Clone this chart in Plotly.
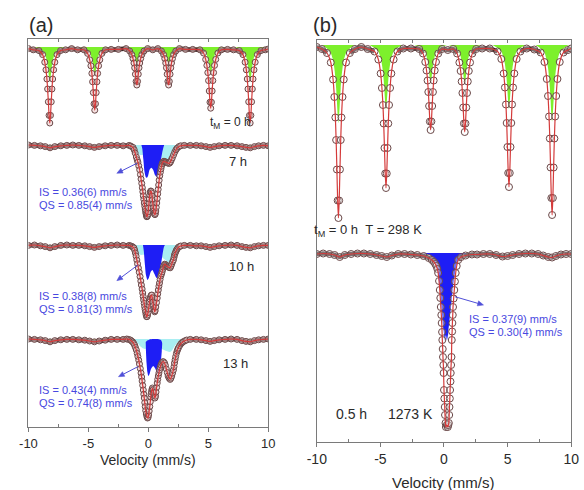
import math
import plotly.graph_objects as go

W, H = 584, 490
FONT = "Liberation Sans, Arial, sans-serif"

# ======================= DATA (relative transmission, %) =======================
tick_vals = [-10, -5, 0, 5, 10]
tick_labels = ["-10", "-5", "0", "5", "10"]
minor_ticks = [-7.5, -2.5, 2.5, 7.5]
top_ticks = [-7.5, -5, -2.5, 0, 2.5, 5, 7.5]

# ---- (a) t_M = 0 h ----
a0_v = [-10.0, -9.6,
        -9.12, -8.82, -8.64, -8.54, -8.46, -8.40, -8.34, -8.28, -8.22, -8.16, -8.10, -8.04, -7.98, -7.90, -7.80, -7.62, -7.32,
        -6.9, -6.4, -5.9,
        -5.37, -5.07, -4.89, -4.79, -4.71, -4.65, -4.59, -4.53, -4.47, -4.41, -4.35, -4.29, -4.23, -4.15, -4.05, -3.87, -3.57,
        -3.1, -2.5,
        -1.86, -1.56, -1.38, -1.28, -1.20, -1.14, -1.08, -1.02, -0.96, -0.90, -0.84, -0.78, -0.72, -0.64, -0.54, -0.36, -0.06,
        0.37,
        0.79, 1.09, 1.27, 1.37, 1.45, 1.51, 1.57, 1.63, 1.69, 1.75, 1.81, 1.87, 1.93, 2.01, 2.11, 2.29, 2.59,
        3.1, 3.7,
        4.30, 4.60, 4.78, 4.88, 4.96, 5.02, 5.08, 5.14, 5.20, 5.26, 5.32, 5.38, 5.44, 5.52, 5.62, 5.80, 6.10,
        6.6, 7.1,
        7.59, 7.89, 8.07, 8.17, 8.25, 8.31, 8.37, 8.43, 8.49, 8.55, 8.61, 8.67, 8.73, 8.81, 8.91, 9.09, 9.39,
        9.75, 10.0]
a0_t = [99.6, 99.3,
        99.1, 98.1, 96.2, 94.3, 92.0, 89.5, 86.3, 82.9, 81.0, 82.9, 86.3, 89.5, 92.0, 94.3, 96.2, 98.1, 99.1,
        99.3, 99.6, 99.3,
        99.3, 98.4, 96.8, 95.3, 93.4, 91.3, 88.6, 85.8, 84.2, 85.8, 88.6, 91.3, 93.4, 95.3, 96.8, 98.4, 99.3,
        99.4, 99.4,
        99.6, 99.0, 98.1, 97.1, 96.0, 94.8, 93.2, 91.4, 90.5, 91.4, 93.2, 94.8, 96.0, 97.1, 98.1, 99.0, 99.6,
        99.3,
        99.6, 99.0, 98.1, 97.1, 96.0, 94.8, 93.2, 91.4, 90.5, 91.4, 93.2, 94.8, 96.0, 97.1, 98.1, 99.0, 99.6,
        99.4, 99.4,
        99.3, 98.5, 96.9, 95.4, 93.6, 91.6, 89.0, 86.2, 84.7, 86.2, 89.0, 91.6, 93.6, 95.4, 96.9, 98.5, 99.3,
        99.4, 99.3,
        99.1, 98.1, 96.2, 94.3, 92.0, 89.5, 86.3, 82.9, 81.0, 82.9, 86.3, 89.5, 92.0, 94.3, 96.2, 98.1, 99.1,
        99.3, 99.5]
a0_green_v = [-9.52, -9.12, -8.82, -8.64, -8.54, -8.46, -8.40, -8.34, -8.28, -8.22, -8.16, -8.10, -8.04, -7.98, -7.90, -7.80, -7.62, -7.32, -6.92, None,
              -5.77, -5.37, -5.07, -4.89, -4.79, -4.71, -4.65, -4.59, -4.53, -4.47, -4.41, -4.35, -4.29, -4.23, -4.15, -4.05, -3.87, -3.57, -3.17, None,
              -2.26, -1.86, -1.56, -1.38, -1.28, -1.20, -1.14, -1.08, -1.02, -0.96, -0.90, -0.84, -0.78, -0.72, -0.64, -0.54, -0.36, -0.06, 0.34, None,
              0.39, 0.79, 1.09, 1.27, 1.37, 1.45, 1.51, 1.57, 1.63, 1.69, 1.75, 1.81, 1.87, 1.93, 2.01, 2.11, 2.29, 2.59, 2.99, None,
              3.90, 4.30, 4.60, 4.78, 4.88, 4.96, 5.02, 5.08, 5.14, 5.20, 5.26, 5.32, 5.38, 5.44, 5.52, 5.62, 5.80, 6.10, 6.50, None,
              7.19, 7.59, 7.89, 8.07, 8.17, 8.25, 8.31, 8.37, 8.43, 8.49, 8.55, 8.61, 8.67, 8.73, 8.81, 8.91, 9.09, 9.39, 9.79]
a0_green_t = [100, 99.6, 99.1, 98.3, 97.4, 96.4, 95.3, 93.8, 92.3, 91.4, 92.3, 93.8, 95.3, 96.4, 97.4, 98.3, 99.1, 99.6, 100, None,
              100, 99.7, 99.3, 98.6, 97.9, 97.0, 96.1, 94.9, 93.6, 92.9, 93.6, 94.9, 96.1, 97.0, 97.9, 98.6, 99.3, 99.7, 100, None,
              100, 99.8, 99.6, 99.1, 98.7, 98.2, 97.6, 96.9, 96.1, 95.7, 96.1, 96.9, 97.6, 98.2, 98.7, 99.1, 99.6, 99.8, 100, None,
              100, 99.8, 99.6, 99.1, 98.7, 98.2, 97.6, 96.9, 96.1, 95.7, 96.1, 96.9, 97.6, 98.2, 98.7, 99.1, 99.6, 99.8, 100, None,
              100, 99.7, 99.3, 98.6, 97.9, 97.1, 96.2, 95.0, 93.8, 93.1, 93.8, 95.0, 96.2, 97.1, 97.9, 98.6, 99.3, 99.7, 100, None,
              100, 99.6, 99.1, 98.3, 97.4, 96.4, 95.3, 93.8, 92.3, 91.4, 92.3, 93.8, 95.3, 96.4, 97.4, 98.3, 99.1, 99.6, 100]

# remnant sextet in the milled samples (tiny green dips)
rem_v = [-8.55, -8.35, -8.2, -8.05, -7.85, None, -4.85, -4.65, -4.5, -4.35, -4.15, None,
         4.8, 5.0, 5.15, 5.3, 5.5, None, 8.15, 8.35, 8.5, 8.65, 8.85]
rem_t = [100, 99.75, 99.5, 99.75, 100, None, 100, 99.8, 99.6, 99.8, 100, None,
         100, 99.8, 99.6, 99.8, 100, None, 100, 99.75, 99.5, 99.75, 100]

# baseline channels shared by the milled spectra (outside the central doublet)
mill_left_v = [-10.0, -9.5, -9.0, -8.6, -8.2, -7.8, -7.3, -6.8, -6.3, -5.8, -5.3, -4.9, -4.5, -4.1, -3.6, -3.1, -2.6, -2.1]
mill_right_v = [3.5, 4.0, 4.4, 4.8, 5.15, 5.5, 5.9, 6.4, 6.9, 7.4, 7.8, 8.15, 8.5, 8.85, 9.2, 9.6, 10.0]

# ---- (a) 7 h ----
a7_left_t = [100.0, 99.9, 99.8, 99.6, 99.3, 99.6, 99.8, 99.9, 100.0, 99.9, 99.8, 99.6, 99.4, 99.6, 99.8, 99.9, 99.9, 99.8]
a7_mid_v = [-1.6, -1.45, -1.28, -1.18, -1.1, -1.0, -0.93, -0.87, -0.8, -0.72, -0.66, -0.61, -0.55, -0.5, -0.46,
            -0.42, -0.38, -0.34, -0.3, -0.26, -0.23, -0.2, -0.17, -0.14, -0.11, -0.08, -0.05, -0.02, 0.02, 0.05,
            0.08, 0.12, 0.16, 0.2, 0.24, 0.27, 0.31, 0.34, 0.38, 0.41, 0.45, 0.48, 0.52, 0.55, 0.59,
            0.62, 0.66, 0.7, 0.74, 0.78, 0.82, 0.86, 0.9, 0.95, 1.0, 1.05, 1.1, 1.15, 1.21, 1.27,
            1.33, 1.4, 1.47, 1.55, 1.62, 1.7, 1.78, 1.85, 1.92, 2.0, 2.1, 2.2, 2.3, 2.4, 2.55, 2.7, 3.0]
a7_mid_t = [99.9, 99.7, 99.4, 98.8, 98.0, 97.0, 96.3, 95.7, 94.8, 93.8, 92.6, 91.5, 90.4, 89.3, 88.3,
            87.3, 86.4, 85.5, 84.7, 84.0, 83.4, 82.9, 82.5, 82.1, 82.1, 82.3, 82.7, 83.3, 84.3, 85.5,
            86.5, 87.5, 88.2, 88.5, 88.4, 88.0, 87.2, 86.3, 85.2, 84.3, 83.5, 83.0, 82.7, 82.6, 82.9,
            83.5, 84.4, 85.5, 86.6, 87.8, 88.9, 90.0, 91.2, 92.3, 93.2, 94.0, 94.7, 95.3, 95.7, 95.9,
            95.9, 95.8, 95.7, 95.6, 95.5, 95.4, 95.5, 95.8, 96.3, 96.8, 97.5, 98.2, 98.8, 99.2, 99.6, 99.8, 99.9]
a7_right_t = [99.9, 99.9, 99.8, 99.6, 99.4, 99.6, 99.8, 99.9, 99.9, 99.8, 99.6, 99.4, 99.3, 99.6, 99.8, 99.9, 99.8]
a7_blue_v = [-0.58, -0.5, -0.42, -0.32, -0.22, -0.12, -0.02, 0.1, 0.25, 0.4, 0.55, 0.72, 0.85, 0.95, 1.05, 1.15, 1.25, 1.32]
a7_blue_t = [100.0, 99.0, 96.5, 93.3, 92.0, 91.8, 92.3, 93.8, 94.3, 93.8, 92.5, 92.0, 92.8, 94.5, 96.3, 98.0, 99.3, 100.0]
a7_cyan_v = [-1.5, -1.3, -1.1, -0.9, -0.7, -0.5, -0.2, 0.2, 0.6, 1.0, 1.3, 1.6, 1.8, 2.0, 2.2, 2.4, 2.6, 2.9]
a7_cyan_t = [100.0, 99.4, 98.5, 97.8, 97.5, 97.5, 97.8, 98.0, 97.8, 97.0, 96.3, 95.8, 95.8, 96.9, 98.4, 99.3, 99.7, 100.0]

# ---- (a) 10 h ----
a10_left_t = [99.9, 100.0, 99.8, 99.6, 99.3, 99.6, 99.9, 100.0, 99.9, 99.9, 99.8, 99.6, 99.4, 99.6, 99.8, 99.9, 100.0, 99.9]
a10_mid_v = [-1.6, -1.45, -1.35, -1.27, -1.2, -1.14, -1.08, -1.02, -0.96, -0.9, -0.83, -0.76, -0.69, -0.63, -0.58,
             -0.52, -0.47, -0.43, -0.39, -0.35, -0.31, -0.27, -0.23, -0.19, -0.15, -0.11, -0.07, -0.03, 0.02, 0.06,
             0.1, 0.14, 0.18, 0.23, 0.28, 0.33, 0.38, 0.42, 0.46, 0.5, 0.53, 0.57, 0.62, 0.68, 0.74,
             0.78, 0.83, 0.88, 0.93, 0.98, 1.04, 1.1, 1.15, 1.2, 1.25, 1.3, 1.36, 1.43, 1.5, 1.58,
             1.65, 1.73, 1.82, 1.88, 1.95, 2.02, 2.09, 2.14, 2.18, 2.23, 2.28, 2.34, 2.4, 2.49, 2.6, 2.7, 3.0]
a10_mid_t = [99.9, 99.75, 99.6, 99.45, 99.25, 98.7, 98.0, 97.2, 96.25, 95.3, 94.25, 93.2, 92.1, 91.0, 90.0,
             89.0, 88.0, 87.1, 86.25, 85.4, 84.6, 83.9, 83.25, 82.6, 82.1, 82.1, 82.5, 83.1, 84.0, 84.9,
             85.75, 86.5, 87.0, 87.4, 87.5, 86.8, 85.75, 84.9, 84.1, 83.6, 83.3, 83.6, 84.5, 85.6, 86.75,
             87.8, 88.75, 89.7, 90.5, 91.4, 92.25, 92.8, 93.3, 93.9, 94.5, 94.9, 95.2, 95.1, 94.9, 94.7,
             94.5, 94.4, 94.3, 94.7, 95.25, 95.8, 96.25, 96.9, 97.5, 97.9, 98.3, 98.7, 99.0, 99.4, 99.6, 99.75, 99.9]
a10_right_t = [99.9, 99.8, 99.8, 99.6, 99.4, 99.6, 99.8, 99.9, 100.0, 99.9, 99.6, 99.4, 99.3, 99.6, 99.8, 99.9, 99.9]
a10_blue_v = [-0.45, -0.38, -0.3, -0.2, -0.07, 0.05, 0.2, 0.34, 0.5, 0.65, 0.74, 0.85, 0.98, 1.1, 1.2, 1.3, 1.38]
a10_blue_t = [100.0, 98.5, 95.5, 92.5, 91.25, 91.8, 93.3, 93.75, 92.8, 91.9, 91.75, 92.5, 94.3, 96.0, 98.0, 99.5, 100.0]
a10_cyan_v = [-1.5, -1.25, -1.05, -0.85, -0.6, -0.3, 0.2, 0.7, 1.1, 1.4, 1.69, 1.9, 2.1, 2.3, 2.5, 2.8]
a10_cyan_t = [100.0, 99.4, 98.5, 97.8, 97.5, 97.6, 98.0, 97.8, 97.0, 96.3, 95.6, 96.3, 97.5, 98.7, 99.5, 100.0]

# ---- (a) 13 h ----
a13_left_t = [100.0, 99.9, 99.8, 99.6, 99.3, 99.6, 99.8, 99.9, 99.9, 99.8, 99.7, 99.5, 99.3, 99.5, 99.7, 99.9, 99.9, 99.9]
a13_mid_v = [-1.8, -1.65, -1.5, -1.4, -1.3, -1.22, -1.15, -1.08, -1.0, -0.93, -0.87, -0.8, -0.74, -0.67, -0.61,
             -0.56, -0.52, -0.47, -0.42, -0.38, -0.34, -0.3, -0.26, -0.22, -0.17, -0.12, -0.07, -0.02, 0.02, 0.07,
             0.12, 0.16, 0.2, 0.23, 0.26, 0.3, 0.34, 0.39, 0.44, 0.5, 0.55, 0.6, 0.64, 0.69, 0.74,
             0.78, 0.83, 0.88, 0.93, 0.99, 1.05, 1.12, 1.2, 1.27, 1.35, 1.42, 1.5, 1.58, 1.65, 1.73,
             1.82, 1.88, 1.95, 2.02, 2.09, 2.14, 2.18, 2.23, 2.28, 2.34, 2.4, 2.45, 2.5, 2.6, 2.7,
             2.8, 2.9, 3.05, 3.2]
a13_mid_t = [100.0, 99.9, 99.75, 99.5, 99.25, 98.9, 98.5, 97.9, 97.25, 96.4, 95.6, 94.7, 93.75, 92.6, 91.5,
             90.5, 89.5, 88.4, 87.25, 86.2, 85.25, 84.1, 83.1, 82.1, 81.25, 80.6, 80.25, 80.4, 81.0, 82.0,
             83.1, 84.3, 85.5, 86.2, 86.8, 87.4, 87.75, 87.3, 86.5, 85.7, 85.25, 85.7, 86.75, 87.9, 89.0,
             89.9, 90.75, 91.5, 92.25, 92.9, 93.5, 94.0, 94.3, 94.3, 94.0, 93.4, 92.5, 91.6, 90.75, 90.2,
             89.9, 90.2, 90.75, 91.5, 92.25, 93.1, 94.0, 94.8, 95.6, 96.4, 97.0, 97.4, 97.75, 98.3, 98.75,
             99.05, 99.3, 99.55, 99.75]
a13_right_t = [99.9, 99.9, 99.8, 99.6, 99.4, 99.6, 99.8, 99.9, 100.0, 99.9, 99.6, 99.4, 99.3, 99.6, 99.8, 99.9, 100.0]
a13_blue_v = [-0.22, -0.2, -0.15, -0.08, 0.0, 0.1, 0.22, 0.4, 0.55, 0.7, 0.82, 0.95, 1.05, 1.12, 1.15,
              1.05, 0.8, 0.4, 0.1, -0.1]
a13_blue_t = [99.25, 97.0, 94.0, 91.75, 90.75, 91.25, 92.5, 93.25, 92.75, 91.75, 91.5, 92.5, 94.5, 97.0, 99.0,
              99.75, 100.0, 100.0, 99.9, 99.6]
a13_cyan_v = [-1.4, -1.1, -0.9, -0.7, -0.5, -0.3, 0.0, 0.4, 0.8, 1.2, 1.5, 1.8, 2.0, 2.2, 2.4, 2.6, 2.9, 3.2]
a13_cyan_t = [100.0, 99.5, 99.0, 98.25, 97.75, 97.5, 97.6, 97.9, 97.75, 97.4, 97.0, 96.75, 97.25, 98.25, 99.0, 99.5, 99.9, 100.0]

# ---- (b) t_M = 0 h, T = 298 K ----
b0_v = [-10.0, -9.6,
        -9.20, -8.90, -8.72, -8.62, -8.54, -8.48, -8.42, -8.36, -8.30, -8.24, -8.18, -8.12, -8.06, -7.98, -7.88, -7.70, -7.40,
        -7.0, -6.5, -6.0,
        -5.46, -5.16, -4.98, -4.88, -4.80, -4.74, -4.68, -4.62, -4.56, -4.50, -4.44, -4.38, -4.32, -4.24, -4.14, -3.96, -3.66,
        -3.2, -2.6,
        -1.95, -1.65, -1.47, -1.37, -1.29, -1.23, -1.17, -1.11, -1.05, -0.99, -0.93, -0.87, -0.81, -0.73, -0.63, -0.45, -0.15,
        0.3,
        0.73, 1.03, 1.21, 1.31, 1.39, 1.45, 1.51, 1.57, 1.63, 1.69, 1.75, 1.81, 1.87, 1.95, 2.05, 2.23, 2.53,
        3.0, 3.6,
        4.21, 4.51, 4.69, 4.79, 4.87, 4.93, 4.99, 5.05, 5.11, 5.17, 5.23, 5.29, 5.35, 5.43, 5.53, 5.71, 6.01,
        6.5, 7.1,
        7.60, 7.90, 8.08, 8.18, 8.26, 8.32, 8.38, 8.44, 8.50, 8.56, 8.62, 8.68, 8.74, 8.82, 8.92, 9.10, 9.40,
        9.75, 10.0]
b0_t = [99.6, 99.2,
        98.4, 96.5, 93.1, 89.6, 85.5, 81.0, 75.1, 68.9, 65.4, 68.9, 75.1, 81.0, 85.5, 89.6, 93.1, 96.5, 98.4,
        99.2, 99.6, 99.2,
        98.7, 97.1, 94.3, 91.4, 88.0, 84.3, 79.4, 74.3, 71.4, 74.3, 79.4, 84.3, 88.0, 91.4, 94.3, 97.1, 98.7,
        99.3, 99.3,
        99.2, 98.3, 96.6, 94.9, 92.9, 90.6, 87.8, 84.7, 83.0, 84.7, 87.8, 90.6, 92.9, 94.9, 96.6, 98.3, 99.2,
        99.0,
        99.2, 98.3, 96.5, 94.8, 92.7, 90.4, 87.5, 84.3, 82.6, 84.3, 87.5, 90.4, 92.7, 94.8, 96.5, 98.3, 99.2,
        99.3, 99.3,
        98.7, 97.2, 94.3, 91.5, 88.1, 84.4, 79.6, 74.4, 71.6, 74.4, 79.6, 84.4, 88.1, 91.5, 94.3, 97.2, 98.7,
        99.3, 99.1,
        98.5, 96.6, 93.2, 89.8, 85.7, 81.3, 75.5, 69.4, 66.0, 69.4, 75.5, 81.3, 85.7, 89.8, 93.2, 96.6, 98.5,
        99.0, 99.3]
b0_green_v = [-9.60, -9.20, -8.90, -8.72, -8.62, -8.54, -8.48, -8.42, -8.36, -8.30, -8.24, -8.18, -8.12, -8.06, -7.98, -7.88, -7.70, -7.40, -7.00, None,
              -5.86, -5.46, -5.16, -4.98, -4.88, -4.80, -4.74, -4.68, -4.62, -4.56, -4.50, -4.44, -4.38, -4.32, -4.24, -4.14, -3.96, -3.66, -3.26, None,
              -2.35, -1.95, -1.65, -1.47, -1.37, -1.29, -1.23, -1.17, -1.11, -1.05, -0.99, -0.93, -0.87, -0.81, -0.73, -0.63, -0.45, -0.15, 0.25, None,
              0.33, 0.73, 1.03, 1.21, 1.31, 1.39, 1.45, 1.51, 1.57, 1.63, 1.69, 1.75, 1.81, 1.87, 1.95, 2.05, 2.23, 2.53, 2.93, None,
              3.81, 4.21, 4.51, 4.69, 4.79, 4.87, 4.93, 4.99, 5.05, 5.11, 5.17, 5.23, 5.29, 5.35, 5.43, 5.53, 5.71, 6.01, 6.41, None,
              7.20, 7.60, 7.90, 8.08, 8.18, 8.26, 8.32, 8.38, 8.44, 8.50, 8.56, 8.62, 8.68, 8.74, 8.82, 8.92, 9.10, 9.40, 9.80]
b0_green_t = [100, 99.3, 98.4, 96.9, 95.3, 93.5, 91.4, 88.8, 86.0, 84.4, 86.0, 88.8, 91.4, 93.5, 95.3, 96.9, 98.4, 99.3, 100, None,
              100, 99.4, 98.7, 97.4, 96.1, 94.6, 92.9, 90.7, 88.4, 87.1, 88.4, 90.7, 92.9, 94.6, 96.1, 97.4, 98.7, 99.4, 100, None,
              100, 99.7, 99.2, 98.5, 97.7, 96.8, 95.8, 94.5, 93.1, 92.3, 93.1, 94.5, 95.8, 96.8, 97.7, 98.5, 99.2, 99.7, 100, None,
              100, 99.7, 99.2, 98.4, 97.7, 96.7, 95.7, 94.4, 93.0, 92.2, 93.0, 94.4, 95.7, 96.7, 97.7, 98.4, 99.2, 99.7, 100, None,
              100, 99.4, 98.7, 97.4, 96.2, 94.6, 93.0, 90.8, 88.5, 87.2, 88.5, 90.8, 93.0, 94.6, 96.2, 97.4, 98.7, 99.4, 100, None,
              100, 99.3, 98.5, 96.9, 95.4, 93.6, 91.6, 89.0, 86.2, 84.7, 86.2, 89.0, 91.6, 93.6, 95.4, 96.9, 98.5, 99.3, 100]

# ---- (b) 0.5 h, 1273 K ----
b1_v = [-10.0, -9.5, -9.0, -8.6, -8.2, -7.8, -7.3, -6.8, -6.3, -5.8, -5.3, -4.9, -4.5, -4.1, -3.6, -3.1, -2.6, -2.1,
        -1.6, -1.2, -0.95, -0.79, -0.68, -0.6, -0.52, -0.46, -0.39, -0.33, -0.29, -0.25, -0.21, -0.18, -0.15, -0.13,
        -0.1, -0.08, -0.05, -0.03, 0.0, 0.03, 0.06, 0.08, 0.12, 0.15, 0.22, 0.3, 0.34, 0.38, 0.41, 0.43, 0.46, 0.48,
        0.51, 0.53, 0.56, 0.59, 0.61, 0.64, 0.66, 0.69, 0.71, 0.76, 0.81, 0.86, 0.92, 1.0, 1.12, 1.35, 1.7, 2.2,
        2.6, 3.1, 3.6, 4.1, 4.6, 5.0, 5.4, 5.9, 6.4, 6.9, 7.4, 7.8, 8.2, 8.5, 8.8, 9.2, 9.6, 10.0]
b1_t = [99.8, 99.9, 99.8, 99.6, 99.2, 99.6, 99.8, 99.9, 99.9, 99.8, 99.6, 99.4, 99.2, 99.5, 99.8, 99.8, 99.7, 99.6,
        99.4, 99.0, 98.6, 98.2, 97.8, 97.4, 96.8, 96.0, 94.4, 92.6, 91.0, 89.2, 87.6, 86.0, 84.2, 82.6,
        80.8, 79.2, 77.6, 76.0, 72.6, 70.9, 69.2, 67.6, 66.0, 65.2, 65.6, 65.2, 65.6, 66.0, 67.6, 69.2, 70.9, 72.6,
        74.3, 76.0, 77.6, 79.2, 82.6, 84.3, 86.0, 87.6, 89.2, 90.9, 92.6, 94.3, 96.0, 97.4, 98.6, 99.2, 99.5, 99.7,
        99.7, 99.8, 99.8, 99.6, 99.3, 99.4, 99.6, 99.8, 99.9, 99.9, 99.8, 99.5, 99.2, 99.1, 99.4, 99.7, 99.8, 99.8]
b1_blue_v = [-1.7, -1.2, -0.9, -0.75, -0.6, -0.5, -0.41, -0.3, -0.23, -0.15, -0.1, -0.03, 0.03, 0.06, 0.12, 0.18,
             0.24, 0.3, 0.34, 0.41, 0.5, 0.56, 0.62, 0.68, 0.78, 0.87, 1.0, 1.2, 1.5, 2.0, 2.3]
b1_blue_t = [100.0, 99.7, 99.2, 98.4, 97.6, 96.6, 94.8, 92.0, 90.0, 87.6, 86.0, 84.4, 83.2, 82.4, 83.6, 82.6,
             83.6, 82.6, 84.4, 86.0, 88.0, 89.4, 91.0, 92.6, 94.6, 96.0, 97.6, 98.8, 99.4, 99.8, 100.0]

# full channel lists of the milled spectra
a7_v = mill_left_v + a7_mid_v + mill_right_v
a7_t = a7_left_t + a7_mid_t + a7_right_t
a10_v = mill_left_v + a10_mid_v + mill_right_v
a10_t = a10_left_t + a10_mid_t + a10_right_t
a13_v = mill_left_v + a13_mid_v + mill_right_v
a13_t = a13_left_t + a13_mid_t + a13_right_t
for _v, _t in [(a0_v, a0_t), (a7_v, a7_t), (a10_v, a10_t), (a13_v, a13_t), (b0_v, b0_t), (b1_v, b1_t),
               (a0_green_v, a0_green_t), (b0_green_v, b0_green_t), (b1_blue_v, b1_blue_t)]:
    assert len(_v) == len(_t), (len(_v), len(_t))

# ======================= STYLE / LAYOUT =======================
GREEN, BLUE, CYAN = "#7df02c", "#1e1ef5", "#a9eef2"
BAND, RED, FRAME = "#3a2424", "#d43a3a", "#7a7a7a"
MARK = "#6a4848"
TXT, ISC, ARR = "#2a2a2a", "#4848e0", "#5050d8"

A_X = (19, 266)
B_X = (316, 578)
A_FILL = "rgba(235,200,200,0.55)"
B_FILL = "rgba(255,255,255,0.35)"
panels = [
    dict(xa="x", ya="y", xpx=A_X, top=330, bot=427, base=339, k=0.25, mf=A_FILL,
         v=a13_v, t=a13_t, fills=[(a13_cyan_v, a13_cyan_t, CYAN), (a13_blue_v, a13_blue_t, BLUE), (rem_v, rem_t, GREEN)], ms=6),
    dict(xa="x2", ya="y2", xpx=A_X, top=233, bot=330, base=245, k=0.25, mf=A_FILL,
         v=a10_v, t=a10_t, fills=[(a10_cyan_v, a10_cyan_t, CYAN), (a10_blue_v, a10_blue_t, BLUE), (rem_v, rem_t, GREEN)], ms=6),
    dict(xa="x3", ya="y3", xpx=A_X, top=136, bot=233, base=145, k=0.25, mf=A_FILL,
         v=a7_v, t=a7_t, fills=[(a7_cyan_v, a7_cyan_t, CYAN), (a7_blue_v, a7_blue_t, BLUE), (rem_v, rem_t, GREEN)], ms=6),
    dict(xa="x4", ya="y4", xpx=A_X, top=39, bot=136, base=47, k=0.25, mf=A_FILL,
         v=a0_v, t=a0_t, fills=[(a0_green_v, a0_green_t, GREEN)], ms=6),
    dict(xa="x5", ya="y5", xpx=B_X, top=245, bot=442, base=253, k=0.2, mf=B_FILL,
         v=b1_v, t=b1_t, fills=[(b1_blue_v, b1_blue_t, BLUE)], ms=7),
    dict(xa="x6", ya="y6", xpx=B_X, top=40, bot=245, base=45, k=0.2, mf=B_FILL,
         v=b0_v, t=b0_t, fills=[(b0_green_v, b0_green_t, GREEN)], ms=7),
]

fig = go.Figure()
layout = dict(width=W, height=H, margin=dict(l=0, r=0, t=0, b=0, pad=0),
              paper_bgcolor="white", plot_bgcolor="rgba(0,0,0,0)", showlegend=False,
              font=dict(family=FONT, color=TXT))

for p in panels:
    xa, ya = p["xa"], p["ya"]
    k = p["k"]
    for fv, ft, col in p["fills"]:
        fig.add_trace(go.Scatter(x=fv, y=ft, xaxis=xa, yaxis=ya, mode="lines", fill="toself",
                                 fillcolor=col, line=dict(width=0, shape="spline", smoothing=0.6),
                                 hoverinfo="skip"))
    band_t = [y if (100 - y) / k < 9 else None for y in p["t"]]
    fig.add_trace(go.Scatter(x=p["v"], y=band_t, xaxis=xa, yaxis=ya, mode="lines",
                             line=dict(color=BAND, width=4.5, shape="spline", smoothing=0.6),
                             connectgaps=False, hoverinfo="skip"))
    fig.add_trace(go.Scatter(x=p["v"], y=p["t"], xaxis=xa, yaxis=ya, mode="markers",
                             marker=dict(symbol="circle", size=p["ms"], color=p["mf"],
                                         line=dict(width=1, color=MARK)),
                             hoverinfo="skip"))
    fig.add_trace(go.Scatter(x=p["v"], y=p["t"], xaxis=xa, yaxis=ya, mode="lines",
                             line=dict(color=RED, width=1.2, shape="spline", smoothing=0.6),
                             hoverinfo="skip"))

    x0, x1 = p["xpx"]
    xdom = [x0 / W, x1 / W]
    ydom = [1 - p["bot"] / H, 1 - p["top"] / H]
    yr = [100 - (p["bot"] - p["base"]) * k, 100 + (p["base"] - p["top"]) * k]
    xkey = "xaxis" if xa == "x" else "xaxis" + xa[1:]
    ykey = "yaxis" if ya == "y" else "yaxis" + ya[1:]
    layout[ykey] = dict(domain=ydom, anchor=xa, range=yr, showline=True, mirror=True,
                        linecolor=FRAME, linewidth=1, ticks="", showticklabels=False,
                        showgrid=False, zeroline=False, fixedrange=True)
    base_x = dict(domain=xdom, anchor=ya, range=[-10, 10], showgrid=False, zeroline=False,
                  fixedrange=True)
    if xa in ("x", "x5"):
        fs = 13 if xa == "x" else 14
        base_x.update(showline=True, linecolor=FRAME, linewidth=1, ticks="outside", ticklen=4,
                      tickcolor=FRAME, tickvals=tick_vals, ticktext=tick_labels,
                      tickfont=dict(size=fs, color=TXT, family=FONT),
                      minor=dict(tickvals=minor_ticks, ticks="inside", ticklen=3, tickcolor=FRAME))
    elif xa in ("x4", "x6"):
        base_x.update(side="top", showline=True, linecolor=FRAME, linewidth=1, ticks="inside",
                      ticklen=3, tickcolor=FRAME, tickvals=top_ticks, showticklabels=False)
    else:
        base_x.update(visible=False)
    layout[xkey] = base_x

fig.update_layout(**layout)


def ann(text, px, py, size, color=TXT, xanchor="left"):
    fig.add_annotation(text=text, x=px / W, y=1 - py / H, xref="paper", yref="paper",
                       xanchor=xanchor, yanchor="middle", showarrow=False,
                       font=dict(size=size, color=color, family=FONT))


def arrow(hx, hy, tx, ty, head=6.0, half=2.6):
    """Pointer drawn as shapes: a line from tail (tx,ty) to head (hx,hy), pixel units."""
    dx, dy = hx - tx, hy - ty
    L = math.hypot(dx, dy)
    ux, uy = dx / L, dy / L
    bx, by = hx - ux * head, hy - uy * head
    px_, py_ = -uy, ux
    P = lambda x, y: (x / W, 1 - y / H)
    (x0, y0), (x1, y1) = P(tx, ty), P(bx, by)
    fig.add_shape(type="line", xref="paper", yref="paper", x0=x0, y0=y0, x1=x1, y1=y1,
                  line=dict(color=ARR, width=1))
    pts = [P(hx, hy), P(bx + px_ * half, by + py_ * half), P(bx - px_ * half, by - py_ * half)]
    path = "M {:.5f} {:.5f} L {:.5f} {:.5f} L {:.5f} {:.5f} Z".format(*pts[0], *pts[1], *pts[2])
    fig.add_shape(type="path", xref="paper", yref="paper", path=path,
                  fillcolor=ARR, line=dict(color=ARR, width=0.5))


ann("(a)", 18, 25, 20)
ann("(b)", 310, 25, 20)
ann("t<sub>M</sub> = 0 h", 250, 123, 12, xanchor="right")
ann("7 h", 223, 162, 13)
ann("10 h", 223, 266, 13)
ann("13 h", 217, 363, 13)
ann("IS = 0.36(6) mm/s", 28, 192, 11, ISC)
ann("QS = 0.85(4) mm/s", 28, 204.5, 11, ISC)
ann("IS = 0.38(8) mm/s", 28, 296, 11, ISC)
ann("QS = 0.81(3) mm/s", 28, 308.5, 11, ISC)
ann("IS = 0.43(4) mm/s", 28, 390, 11, ISC)
ann("QS = 0.74(8) mm/s", 28, 403, 11, ISC)
arrow(110, 173.3, 130.7, 163.3)
arrow(110, 280.7, 131.7, 265)
arrow(111.7, 376.7, 131.7, 366.7)
ann("t<sub>M</sub> = 0 h\u00a0\u00a0T = 298 K", 311, 230, 13)
ann("0.5 h", 334, 414, 14)
ann("1273 K", 387, 414, 14)
ann("IS = 0.37(9) mm/s", 470.5, 319, 11, ISC)
ann("QS = 0.30(4) mm/s", 470.5, 331.5, 11, ISC)
arrow(487.7, 305, 458.3, 296.7)
ann("Velocity (mm/s)", 142.5, 460, 14, xanchor="center")
ann("Velocity (mm/s)", 447, 482, 15, xanchor="center")

fig.write_html("out.html")
